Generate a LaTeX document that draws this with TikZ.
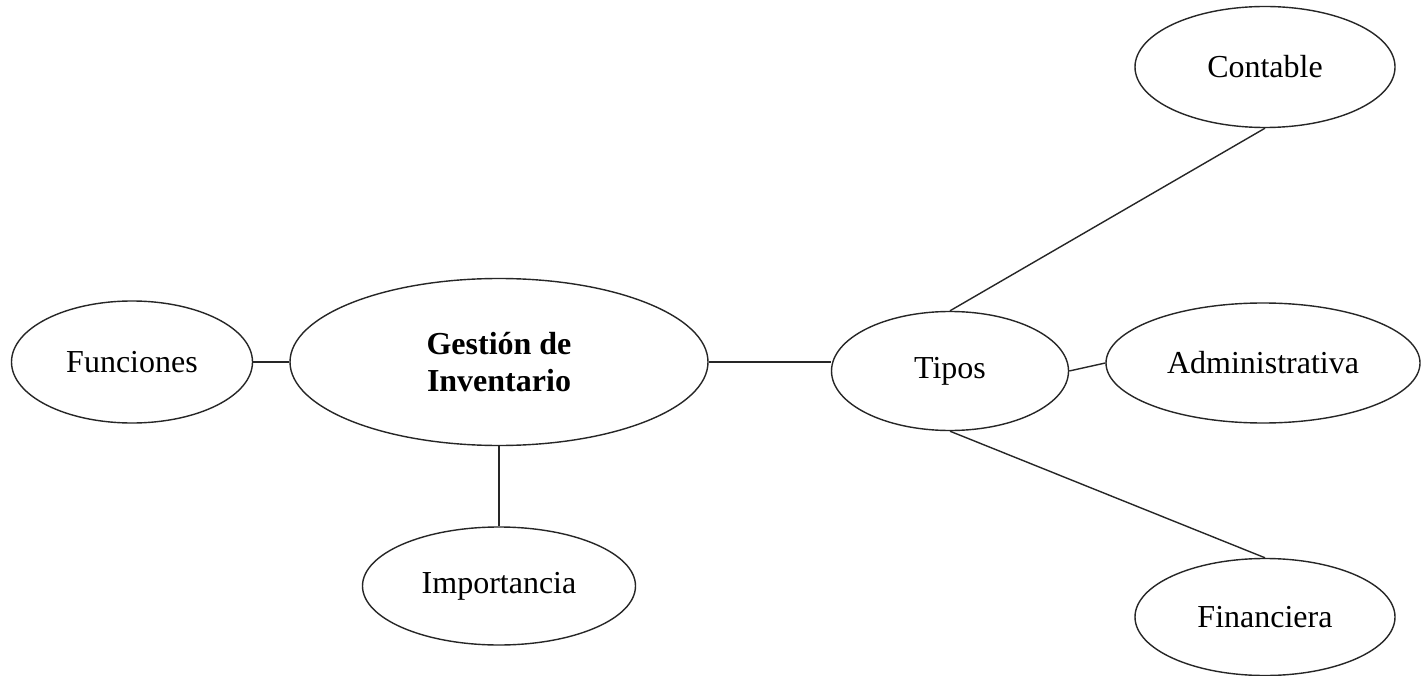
\documentclass[tikz,border=0pt]{standalone}
\usepackage{fontspec}
\setmainfont{Liberation Serif}
\usetikzlibrary{shapes.geometric}
\begin{document}
\begin{tikzpicture}[x=1pt,y=-1pt,
  bub/.style={draw=black!85, ellipse, inner sep=0pt, line width=1.4pt,
    font=\fontsize{32}{37}\selectfont, align=center},
  link/.style={draw=black!85, line width=1.4pt}]
\useasboundingbox[fill=white] (0,0) rectangle (1421,676);
\node[bub, minimum width=241, minimum height=122] (F) at (132,362) {Funciones};
\node[bub, minimum width=418, minimum height=167, font=\fontsize{32}{37}\selectfont\bfseries] (G) at (499,362) {\raisebox{-4pt}{\parbox{200pt}{\centering Gestión de\\Inventario}}};
\node[bub, minimum width=273, minimum height=118] (I) at (499,586) {Importancia};
\node[bub, minimum width=237, minimum height=119] (T) at (950,371) {Tipos};
\node[bub, minimum width=260, minimum height=121] (C) at (1265,67) {Contable};
\node[bub, minimum width=314, minimum height=120] (A) at (1263,363) {Administrativa};
\node[bub, minimum width=260, minimum height=117] (Fi) at (1265,617) {Financiera};
\draw[link] (F.east) -- (G.west);
\draw[link] (G.south) -- (I.north);
\draw[link] (G.east) -- (G.east -| T.west);
\draw[link] (T.north) -- (C.south);
\draw[link] (T.east) -- (A.west);
\draw[link] (T.south) -- (Fi.north);
\end{tikzpicture}
\end{document}
